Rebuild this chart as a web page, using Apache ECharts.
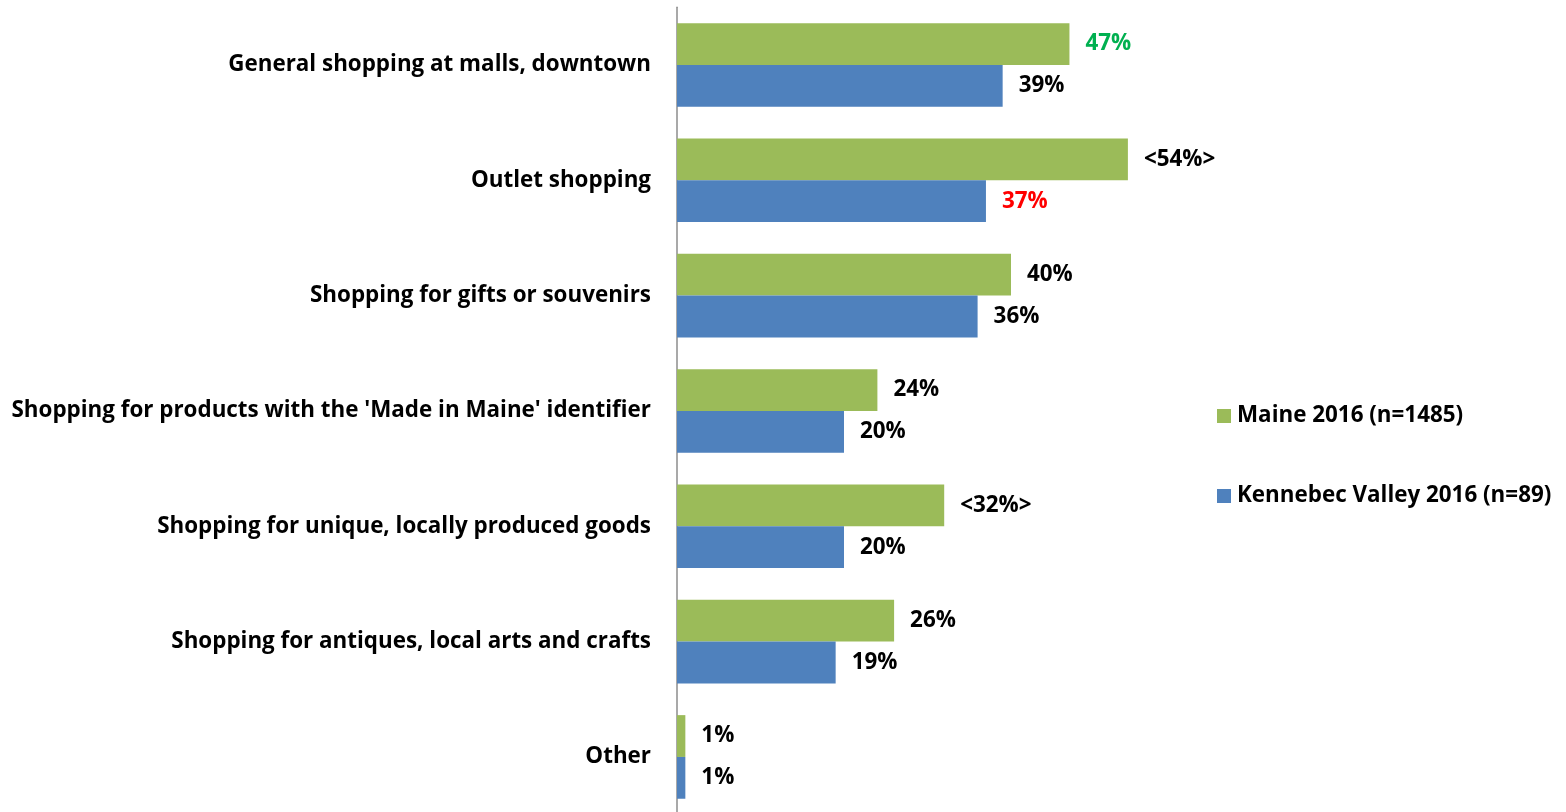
<!DOCTYPE html>
<html>
<head>
<meta charset="utf-8">
<script src="https://cdn.jsdelivr.net/npm/echarts@6/dist/echarts.min.js"></script>
<style>
  html, body { margin: 0; padding: 0; background: #ffffff; overflow: hidden; }
  #chart { width: 1566px; height: 824px; }
</style>
</head>
<body>
<div id="chart"></div>
<script>
// Shopping activities, percent of respondents
const categories = [
  "General shopping at malls, downtown",
  "Outlet shopping",
  "Shopping for gifts or souvenirs",
  "Shopping for products with the 'Made in Maine' identifier",
  "Shopping for unique, locally produced goods",
  "Shopping for antiques, local arts and crafts",
  "Other"
];
const maineValues = [47, 54, 40, 24, 32, 26, 1];
const kennebecValues = [39, 37, 36, 20, 20, 19, 1];
// Labels flagged as notable differences are wrapped in angle brackets
const maineLabels = ["47%", "<54%>", "40%", "24%", "<32%>", "26%", "1%"];
const kennebecLabels = ["39%", "37%", "36%", "20%", "20%", "19%", "1%"];
const maineLabelColors = ["#00b050", "#000000", "#000000", "#000000", "#000000", "#000000", "#000000"];
const kennebecLabelColors = ["#000000", "#ff0000", "#000000", "#000000", "#000000", "#000000", "#000000"];
const seriesNames = ["Maine 2016 (n=1485)", "Kennebec Valley 2016 (n=89)"];

const FONT = "'Open Sans', 'Liberation Sans', Arial, sans-serif";
const FONT_SIZE = 22.4;

function buildData(values, labels, colors) {
  return values.map((v, i) => ({
    value: v,
    label: { formatter: labels[i], color: colors[i] }
  }));
}

function barSeries(name, color, values, labels, colors) {
  return {
    name: name,
    type: 'bar',
    barGap: '0%',
    barCategoryGap: '27.5%',
    itemStyle: { color: color },
    label: {
      show: true,
      position: 'right',
      distance: 16,
      fontFamily: FONT,
      fontWeight: 'bold',
      fontSize: FONT_SIZE
    },
    data: buildData(values, labels, colors)
  };
}

const chart = echarts.init(document.getElementById('chart'), null, { renderer: 'canvas' });

chart.setOption({
  animation: false,
  backgroundColor: '#ffffff',
  textStyle: { fontFamily: FONT },
  grid: { left: 677, top: 7.3, width: 501, height: 807.3, containLabel: false },
  legend: {
    orient: 'vertical',
    left: 1217,
    top: 405,
    padding: 0,
    itemGap: 58,
    itemWidth: 14,
    itemHeight: 14,
    icon: 'rect',
    textStyle: { fontFamily: FONT, fontWeight: 'bold', fontSize: FONT_SIZE, color: '#000000', padding: [0, 0, 0, 1] },
    data: seriesNames
  },
  xAxis: {
    type: 'value',
    min: 0,
    max: 60,
    show: false
  },
  yAxis: {
    type: 'category',
    inverse: true,
    data: categories,
    axisLine: { show: true, lineStyle: { color: '#8c8c8c', width: 1.5 } },
    axisTick: { show: false },
    axisLabel: {
      margin: 26,
      fontFamily: FONT,
      fontWeight: 'bold',
      fontSize: FONT_SIZE,
      color: '#000000'
    }
  },
  series: [
    barSeries(seriesNames[0], '#9bbb59', maineValues, maineLabels, maineLabelColors),
    barSeries(seriesNames[1], '#4f81bd', kennebecValues, kennebecLabels, kennebecLabelColors)
  ]
});
</script>
</body>
</html>
